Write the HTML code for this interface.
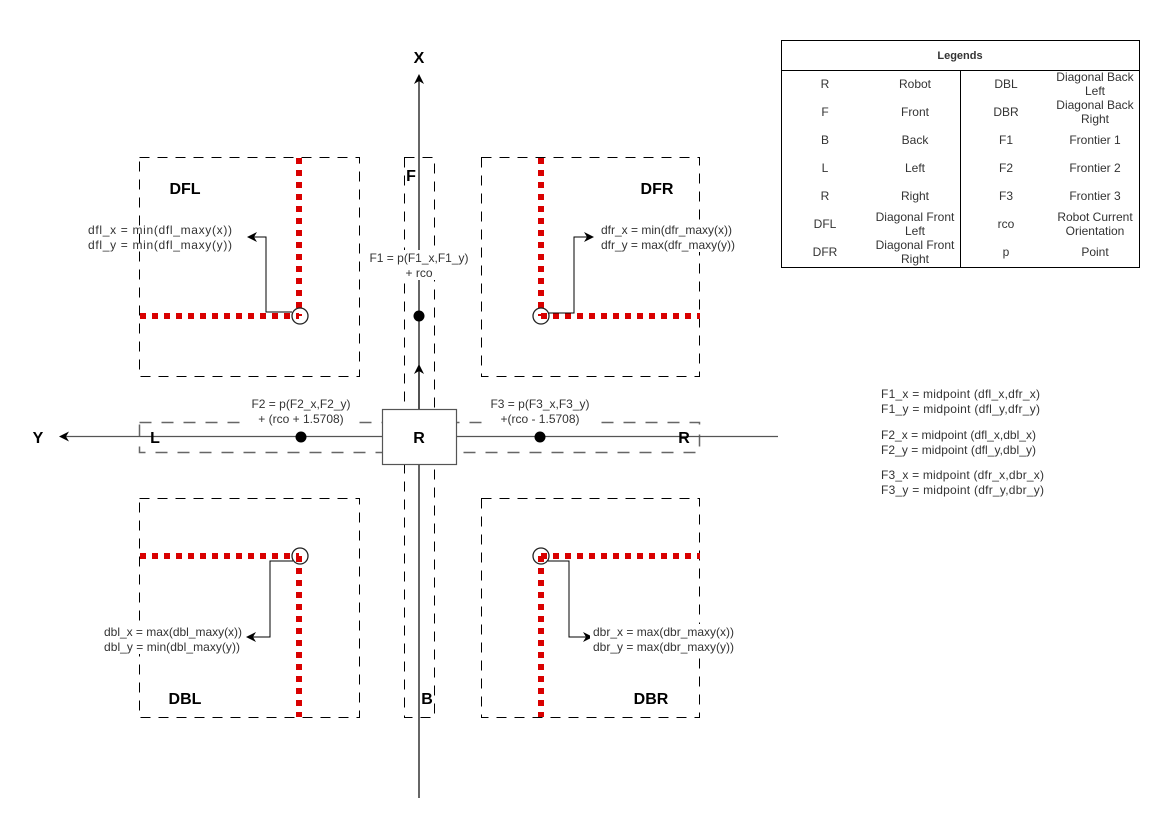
<!DOCTYPE html>
<html><head><meta charset="utf-8"><style>
html,body{margin:0;padding:0;background:#fff;}
svg{display:block;font-family:"Liberation Sans",Arial,sans-serif;}
.t{font-size:12px;fill:#333;}
.b{font-size:16px;font-weight:bold;fill:#000;}
.lg{font-size:12px;fill:#333;text-anchor:middle;}
</style></head><body>
<svg width="1170" height="827" viewBox="0 0 1170 827" xmlns="http://www.w3.org/2000/svg">
<defs>
<marker id="a" markerWidth="10" markerHeight="10" refX="8" refY="5" orient="auto" markerUnits="userSpaceOnUse"><path d="M0,0 L10,5 L0,10 L3,5 z" fill="#000"/></marker>
</defs>
<!-- dashed boxes -->
<g fill="none" stroke="#000" stroke-width="1" stroke-dasharray="10,8">
<rect x="139.5" y="157.5" width="220" height="219"/>
<rect x="481.5" y="157.5" width="218" height="219"/>
<rect x="139.5" y="498.5" width="220" height="219"/>
<rect x="481.5" y="498.5" width="218" height="219"/>
<rect x="404.5" y="157.5" width="30" height="560"/>
</g>
<rect x="139.5" y="422.5" width="560" height="30" fill="none" stroke="#666" stroke-width="1.5" stroke-dasharray="12,10"/>
<!-- axes -->
<line x1="419" y1="798" x2="419" y2="76" stroke="#000" stroke-width="1.2" marker-end="url(#a)"/>
<line x1="778" y1="436.5" x2="61" y2="436.5" stroke="#555" stroke-width="1.2" marker-end="url(#a)"/>
<line x1="419" y1="409" x2="419" y2="366" stroke="#000" stroke-width="1.2" marker-end="url(#a)"/>
<text x="419" y="63" class="b" text-anchor="middle">X</text>
<text x="38" y="443" class="b" text-anchor="middle">Y</text>
<!-- R box -->
<rect x="382.5" y="409.5" width="74" height="55" fill="#fff" stroke="#555" stroke-width="1.2"/>
<text x="419" y="443" class="b" text-anchor="middle">R</text>
<!-- red dotted -->
<g stroke="#d90000" stroke-width="6" stroke-dasharray="6,6" fill="none">
<line x1="299" y1="158" x2="299" y2="316"/>
<line x1="140" y1="316" x2="299" y2="316"/>
<line x1="541" y1="158" x2="541" y2="316"/>
<line x1="541" y1="316" x2="700" y2="316"/>
<line x1="140" y1="556" x2="299" y2="556"/>
<line x1="299" y1="556" x2="299" y2="717"/>
<line x1="541" y1="556" x2="700" y2="556"/>
<line x1="541" y1="556" x2="541" y2="717"/>
</g>
<g fill="none" stroke="#222" stroke-width="1.3">
<circle cx="300" cy="316" r="8"/><circle cx="541" cy="316" r="8"/>
<circle cx="300" cy="556" r="8"/><circle cx="541" cy="556" r="8"/>
</g>
<!-- connectors -->
<g fill="none" stroke="#000" stroke-width="1">
<polyline points="292,312 266,312 266,237 249,237" marker-end="url(#a)"/>
<polyline points="549,313 574,313 574,237 592,237" marker-end="url(#a)"/>
<polyline points="293,561 270,561 270,637 248,637" marker-end="url(#a)"/>
<polyline points="548,561 569,561 569,637 591,637" marker-end="url(#a)"/>
</g>
<!-- points -->
<circle cx="419" cy="316" r="5.5" fill="#000"/>
<circle cx="301" cy="437" r="5.5" fill="#000"/>
<circle cx="540" cy="437" r="5.5" fill="#000"/>
<!-- labels -->
<text x="185" y="194" class="b" text-anchor="middle">DFL</text>
<text x="657" y="194" class="b" text-anchor="middle">DFR</text>
<text x="185" y="704" class="b" text-anchor="middle">DBL</text>
<text x="651" y="704" class="b" text-anchor="middle">DBR</text>
<text x="411" y="181" class="b" text-anchor="middle">F</text>
<text x="427" y="704" class="b" text-anchor="middle">B</text>
<text x="155" y="443" class="b" text-anchor="middle">L</text>
<text x="684" y="443" class="b" text-anchor="middle">R</text>
<g fill="#fff">
<rect x="598" y="222" width="140" height="30"/>
<rect x="590" y="624" width="148" height="30"/>
<rect x="100" y="624" width="146" height="30"/>
<rect x="366" y="250" width="106" height="30"/>
<rect x="248" y="396" width="106" height="30"/>
<rect x="488" y="396" width="104" height="30"/>
</g>
<text x="88" y="234" class="t" textLength="144">dfl_x = min(dfl_maxy(x))</text>
<text x="88" y="249" class="t" textLength="144">dfl_y = min(dfl_maxy(y))</text>
<text x="601" y="234" class="t" textLength="131">dfr_x = min(dfr_maxy(x))</text>
<text x="601" y="249" class="t" textLength="134">dfr_y = max(dfr_maxy(y))</text>
<text x="104" y="636" class="t" textLength="138">dbl_x = max(dbl_maxy(x))</text>
<text x="104" y="651" class="t" textLength="136">dbl_y = min(dbl_maxy(y))</text>
<text x="593" y="636" class="t" textLength="141">dbr_x = max(dbr_maxy(x))</text>
<text x="593" y="651" class="t" textLength="141">dbr_y = max(dbr_maxy(y))</text>
<text x="419" y="262" class="t" text-anchor="middle">F1 = p(F1_x,F1_y)</text>
<text x="419" y="277" class="t" text-anchor="middle">+ rco</text>
<text x="301" y="408" class="t" text-anchor="middle">F2 = p(F2_x,F2_y)</text>
<text x="301" y="423" class="t" text-anchor="middle">+ (rco + 1.5708)</text>
<text x="540" y="408" class="t" text-anchor="middle">F3 = p(F3_x,F3_y)</text>
<text x="540" y="423" class="t" text-anchor="middle">+(rco - 1.5708)</text>
<text x="881" y="398" class="t" textLength="159">F1_x  =  midpoint (dfl_x,dfr_x)</text>
<text x="881" y="413" class="t" textLength="159">F1_y  =  midpoint (dfl_y,dfr_y)</text>
<text x="881" y="439" class="t" textLength="155">F2_x = midpoint (dfl_x,dbl_x)</text>
<text x="881" y="454" class="t" textLength="155">F2_y = midpoint (dfl_y,dbl_y)</text>
<text x="881" y="479" class="t" textLength="163">F3_x  =  midpoint (dfr_x,dbr_x)</text>
<text x="881" y="494" class="t" textLength="163">F3_y  =  midpoint (dfr_y,dbr_y)</text>
<!-- legend -->
<rect x="781.5" y="40.5" width="358" height="227" fill="#fff" stroke="#000" stroke-width="1"/>
<line x1="781" y1="70.5" x2="1139" y2="70.5" stroke="#000"/>
<line x1="960.5" y1="70" x2="960.5" y2="267" stroke="#000"/>
<text x="960" y="59" class="lg" style="font-size:11px;font-weight:bold">Legends</text>
<text x="825" y="88" class="lg">R</text><text x="915" y="88" class="lg">Robot</text>
<text x="825" y="116" class="lg">F</text><text x="915" y="116" class="lg">Front</text>
<text x="825" y="144" class="lg">B</text><text x="915" y="144" class="lg">Back</text>
<text x="825" y="172" class="lg">L</text><text x="915" y="172" class="lg">Left</text>
<text x="825" y="200" class="lg">R</text><text x="915" y="200" class="lg">Right</text>
<text x="825" y="228" class="lg">DFL</text><text x="915" y="221" class="lg">Diagonal Front</text><text x="915" y="235" class="lg">Left</text>
<text x="825" y="256" class="lg">DFR</text><text x="915" y="249" class="lg">Diagonal Front</text><text x="915" y="263" class="lg">Right</text>
<text x="1006" y="88" class="lg">DBL</text><text x="1095" y="81" class="lg">Diagonal Back</text><text x="1095" y="95" class="lg">Left</text>
<text x="1006" y="116" class="lg">DBR</text><text x="1095" y="109" class="lg">Diagonal Back</text><text x="1095" y="123" class="lg">Right</text>
<text x="1006" y="144" class="lg">F1</text><text x="1095" y="144" class="lg">Frontier 1</text>
<text x="1006" y="172" class="lg">F2</text><text x="1095" y="172" class="lg">Frontier 2</text>
<text x="1006" y="200" class="lg">F3</text><text x="1095" y="200" class="lg">Frontier 3</text>
<text x="1006" y="228" class="lg">rco</text><text x="1095" y="221" class="lg">Robot Current</text><text x="1095" y="235" class="lg">Orientation</text>
<text x="1006" y="256" class="lg">p</text><text x="1095" y="256" class="lg">Point</text>
</svg>
</body></html>
